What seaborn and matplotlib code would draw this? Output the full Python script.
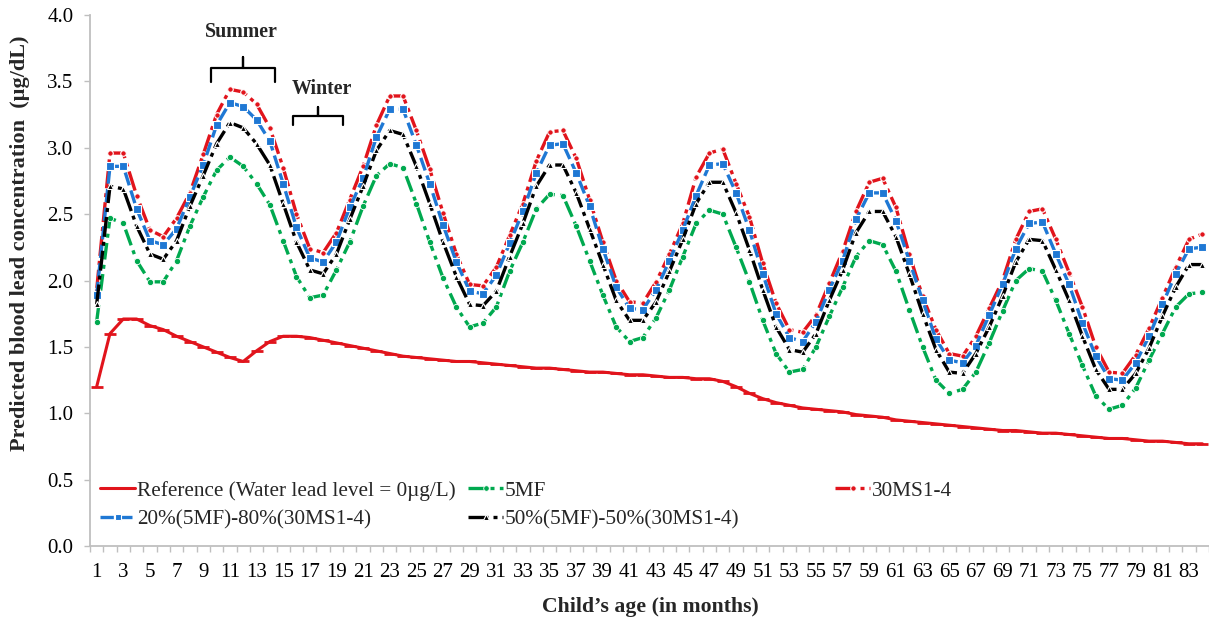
import matplotlib
matplotlib.use("Agg")
import matplotlib.pyplot as plt
import seaborn as sns
from matplotlib.lines import Line2D
from matplotlib.ticker import FormatStrFormatter

# ---------------- data ----------------
months = list(range(1, 85))

reference = [1.20, 1.60, 1.71, 1.71, 1.66, 1.63, 1.58, 1.54, 1.50, 1.46, 1.42, 1.39,
             1.47, 1.54, 1.58, 1.58, 1.57, 1.55, 1.53, 1.51, 1.49, 1.47, 1.45, 1.43,
             1.42, 1.41, 1.40, 1.39, 1.39, 1.38, 1.37, 1.36, 1.35, 1.34, 1.34, 1.33,
             1.32, 1.31, 1.31, 1.30, 1.29, 1.29, 1.28, 1.27, 1.27, 1.26, 1.26, 1.24,
             1.20, 1.15, 1.11, 1.08, 1.06, 1.04, 1.03, 1.02, 1.01, 0.99, 0.98, 0.97,
             0.95, 0.94, 0.93, 0.92, 0.91, 0.90, 0.89, 0.88, 0.87, 0.87, 0.86, 0.85,
             0.85, 0.84, 0.83, 0.82, 0.81, 0.81, 0.80, 0.79, 0.79, 0.78, 0.77, 0.77]

mf5 = [1.69, 2.47, 2.43, 2.15, 1.99, 1.99, 2.15, 2.41, 2.63, 2.83, 2.93, 2.86,
       2.73, 2.57, 2.30, 2.03, 1.87, 1.89, 2.08, 2.29, 2.56, 2.79, 2.88, 2.85,
       2.58, 2.29, 2.02, 1.80, 1.65, 1.68, 1.80, 2.07, 2.29, 2.54, 2.65, 2.64,
       2.41, 2.15, 1.89, 1.65, 1.54, 1.57, 1.72, 1.93, 2.18, 2.43, 2.53, 2.50,
       2.25, 1.99, 1.70, 1.45, 1.31, 1.33, 1.50, 1.73, 1.95, 2.18, 2.30, 2.27,
       2.07, 1.78, 1.50, 1.25, 1.15, 1.18, 1.31, 1.53, 1.77, 2.00, 2.09, 2.07,
       1.85, 1.60, 1.36, 1.13, 1.03, 1.06, 1.19, 1.40, 1.60, 1.80, 1.90, 1.91]

ms30 = [1.93, 2.96, 2.96, 2.64, 2.38, 2.33, 2.47, 2.66, 2.95, 3.25, 3.44, 3.42,
        3.33, 3.15, 2.85, 2.50, 2.24, 2.21, 2.36, 2.61, 2.86, 3.17, 3.39, 3.39,
        3.13, 2.84, 2.51, 2.20, 1.97, 1.96, 2.10, 2.34, 2.58, 2.90, 3.12, 3.13,
        2.92, 2.61, 2.29, 2.00, 1.84, 1.83, 1.99, 2.20, 2.43, 2.78, 2.96, 2.99,
        2.73, 2.48, 2.13, 1.83, 1.63, 1.61, 1.74, 1.98, 2.22, 2.52, 2.74, 2.77,
        2.55, 2.20, 1.88, 1.63, 1.45, 1.43, 1.58, 1.79, 2.00, 2.31, 2.52, 2.54,
        2.31, 2.06, 1.80, 1.50, 1.31, 1.30, 1.44, 1.64, 1.87, 2.10, 2.31, 2.35]

mix2080 = [1.89, 2.86, 2.86, 2.54, 2.30, 2.27, 2.39, 2.63, 2.87, 3.17, 3.34, 3.31,
           3.21, 3.05, 2.73, 2.40, 2.17, 2.14, 2.29, 2.55, 2.77, 3.08, 3.29, 3.29,
           3.02, 2.73, 2.42, 2.14, 1.92, 1.90, 2.04, 2.28, 2.52, 2.81, 3.02, 3.03,
           2.81, 2.56, 2.24, 1.95, 1.79, 1.78, 1.93, 2.15, 2.38, 2.64, 2.87, 2.88,
           2.66, 2.38, 2.05, 1.75, 1.57, 1.54, 1.69, 1.93, 2.15, 2.46, 2.66, 2.66,
           2.45, 2.15, 1.85, 1.56, 1.40, 1.38, 1.51, 1.74, 1.97, 2.24, 2.43, 2.44,
           2.20, 1.97, 1.68, 1.43, 1.26, 1.25, 1.38, 1.58, 1.82, 2.05, 2.24, 2.25]

mix5050 = [1.82, 2.71, 2.69, 2.41, 2.20, 2.16, 2.30, 2.56, 2.79, 3.03, 3.19, 3.15,
           3.03, 2.87, 2.58, 2.29, 2.08, 2.05, 2.20, 2.46, 2.71, 2.98, 3.13, 3.10,
           2.86, 2.58, 2.29, 2.03, 1.82, 1.81, 1.92, 2.18, 2.43, 2.71, 2.87, 2.87,
           2.66, 2.39, 2.12, 1.85, 1.70, 1.70, 1.84, 2.07, 2.31, 2.58, 2.74, 2.74,
           2.51, 2.23, 1.93, 1.65, 1.48, 1.46, 1.60, 1.85, 2.08, 2.36, 2.52, 2.52,
           2.33, 2.05, 1.75, 1.48, 1.31, 1.30, 1.45, 1.65, 1.88, 2.14, 2.31, 2.30,
           2.08, 1.85, 1.58, 1.33, 1.18, 1.18, 1.30, 1.49, 1.73, 1.95, 2.12, 2.12]

labels = ["Reference (Water lead level = 0\u00b5g/L)", "5MF", "30MS1-4",
          "20%(5MF)-80%(30MS1-4)", "50%(5MF)-50%(30MS1-4)"]
x_tick_months = list(range(1, 84, 2))
y_ticks = [0.0, 0.5, 1.0, 1.5, 2.0, 2.5, 3.0, 3.5, 4.0]

# ---------------- style ----------------
sns.set_style("white")
plt.rcParams["font.family"] = ["Liberation Serif", "DejaVu Serif"]

W, H = 1209, 628
fig = plt.figure(figsize=(W / 100, H / 100), dpi=100)
ax = fig.add_axes([90 / W, 82 / H, 1 - 90 / W, (546 - 15) / H])

RED = "#E1141C"
GREEN = "#00A94F"
BLUE = "#1F78D4"
BLACK = "#000000"

styles = [
    dict(color=RED, linewidth=2.2, linestyle="-", marker="_", markersize=9,
         markeredgewidth=2.0, markeredgecolor=RED),
    dict(color=GREEN, linewidth=2.4, linestyle=(0, (5, 1.6, 1.2, 1.6)), marker="o",
         markersize=4.5, markeredgecolor="white", markeredgewidth=0.6),
    dict(color=RED, linewidth=2.4, linestyle=(0, (6, 1.5, 1.2, 1.5)), marker="o",
         markersize=4.0, markeredgecolor="white", markeredgewidth=0.8),
    dict(color=BLUE, linewidth=2.4, linestyle=(0, (4, 1.6)), marker="s",
         markersize=5.5, markeredgecolor="white", markeredgewidth=0.8),
    dict(color=BLACK, linewidth=2.4, linestyle=(0, (6, 1.5, 1.2, 1.5)), marker="^",
         markersize=4.5, markeredgecolor="white", markeredgewidth=0.8),
]
series = [reference, mf5, ms30, mix2080, mix5050]
order = [0, 1, 4, 3, 2]
for i in order:
    sns.lineplot(x=months, y=series[i], ax=ax, legend=False, zorder=3 + i, **styles[i])

# ---------------- axes ----------------
TICK_FS = 15
ax.set_xlim(0.5, 84.5)
ax.set_ylim(0, 4.0)
ax.set_yticks(y_ticks)
ax.yaxis.set_major_formatter(FormatStrFormatter("%.1f"))
ax.set_xticks(x_tick_months)
ax.set_xticklabels([str(m) for m in x_tick_months])
ax.set_xticks([m + 0.5 for m in range(0, 85)], minor=True)
ax.tick_params(axis="x", which="major", length=0, pad=12, labelsize=TICK_FS, labelcolor="black")
ax.tick_params(axis="x", which="minor", length=4, width=1, color="#BFBFBF", direction="out")
ax.tick_params(axis="y", which="major", length=4, width=1, color="#BFBFBF", direction="out",
               pad=8, labelsize=TICK_FS, labelcolor="black", left=True)
ax.tick_params(axis="x", bottom=True, which="both")
for s in ["top", "right"]:
    ax.spines[s].set_visible(False)
for s in ["left", "bottom"]:
    ax.spines[s].set_color("#BFBFBF")
    ax.spines[s].set_linewidth(1.3)
ax.grid(False)
ax.set_xlabel("")
ax.set_ylabel("")

fig.text(20 / W, 1 - 243 / H, "Predicted blood lead concentration  (\u00b5g/dL)", rotation=90,
         ha="center", va="center", fontsize=16, fontweight="bold")
fig.text(650 / W, 1 - 607 / H, "Child\u2019s age (in months)", ha="center", va="center",
         fontsize=15.7, fontweight="bold")

# ---------------- annotations ----------------
def bracket(x0, x1, xc, yh, yb, yt):
    ax.plot([x0, x0, xc, xc, xc, x1, x1], [yb, yh, yh, yt, yh, yh, yb], color="black",
            lw=1.6, clip_on=False, zorder=10, solid_joinstyle="round")

bracket(9.57, 14.38, 11.98, 3.60, 3.495, 3.68)
ax.text(11.9, 3.87, "Summer", ha="center", va="center", fontsize=14.3, fontweight="bold")
bracket(15.73, 19.48, 17.6, 3.24, 3.17, 3.31)
ax.text(17.9, 3.44, "Winter", ha="center", va="center", fontsize=14.3, fontweight="bold")

# ---------------- legends ----------------
handles = [Line2D([], [], **st) for st in styles]
for h in handles[1:]:
    h.set_markersize(4)

LEG_FS = 15.3
def add_leg(idx, xpx, ypx):
    fig.legend([handles[i] for i in idx], [labels[i] for i in idx], loc="upper left",
               bbox_to_anchor=(xpx / W, 1 - ypx / H), bbox_transform=fig.transFigure,
               frameon=False, fontsize=LEG_FS, handlelength=1.65, handletextpad=0.1,
               labelspacing=0.4, borderpad=0, borderaxespad=0)

add_leg([0, 3], 100, 481)
add_leg([1, 4], 468, 481)
add_leg([2], 835, 481)

fig.savefig("out.png", dpi=100)
